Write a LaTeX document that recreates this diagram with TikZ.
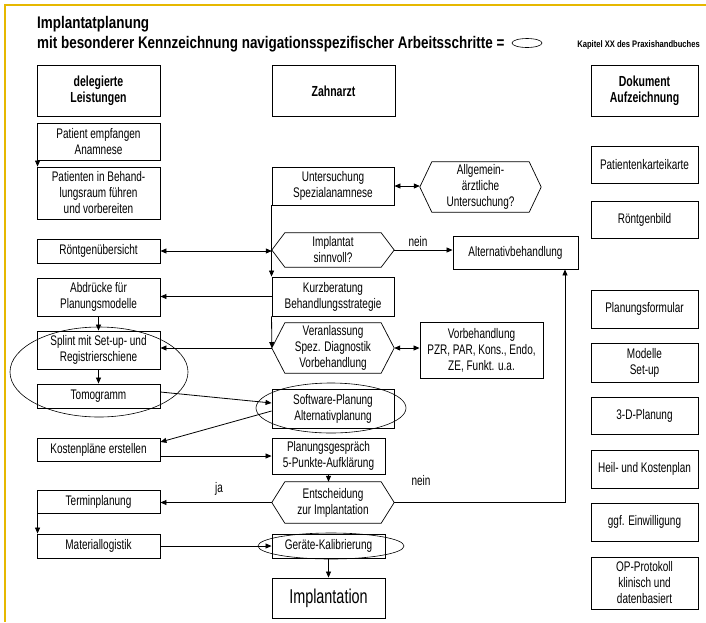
\documentclass[tikz,border=0pt]{standalone}
\usepackage{fontspec}
\setmainfont{Liberation Sans}[FakeStretch=0.72]
\newfontfamily\titlefont{Liberation Sans}[FakeStretch=0.8]
\usetikzlibrary{arrows.meta,shapes.geometric}
\definecolor{frameyellow}{HTML}{E6B800}
\newcommand{\bodyfont}{\fontsize{13.9}{16}\selectfont}
\newcommand{\headfont}{\fontsize{14.6}{16.5}\selectfont\bfseries}
\newcommand{\hexout}[2]{\draw[hexline] (#1.west) -- ([xshift=#2]#1.north west) -- ([xshift=-#2]#1.north east) -- (#1.east) -- ([xshift=-#2]#1.south east) -- ([xshift=#2]#1.south west) -- cycle;}
\tikzset{
  box/.style={draw, line width=0.9pt, inner sep=0pt, align=center, font=\bodyfont},
  hbox/.style={draw, line width=0.9pt, inner sep=0pt, align=center, font=\headfont},
  hexnode/.style={draw=none, inner sep=0pt, align=center, font=\bodyfont},
  hexline/.style={line width=0.7pt, line join=miter},
  conn/.style={line width=0.8pt},
  arr/.style={conn, -{Triangle[length=6pt,width=5pt]}},
  darr/.style={conn, {Triangle[length=6pt,width=5pt]}-{Triangle[length=6pt,width=5pt]}},
  ring/.style={draw, line width=0.6pt},
  lbl/.style={font=\bodyfont, inner sep=0pt},
  ttl/.style={anchor=base west, inner sep=0pt, font=\titlefont\fontsize{16.8}{19}\selectfont\bfseries}
}
\begin{document}
\begin{tikzpicture}[x=1pt,y=-1pt]
\useasboundingbox (0,0) rectangle (706,622);
\fill[white] (0,0) rectangle (706,622);
% frame lines
\draw[frameyellow, line width=2pt] (4,4.5) -- (706,4.5);
\draw[frameyellow, line width=2pt] (5,4) -- (5,622);

% title
\node[ttl] (t1) at (37,28) {Implantatplanung};
\node[ttl] (t2) at (37,48) {mit besonderer Kennzeichnung navigationsspezifischer Arbeitsschritte =};
\node[ring, ellipse, minimum width=30pt, minimum height=9pt, inner sep=0pt] (tell) at (527,43) {};
\node[anchor=base east, inner sep=0pt, font=\titlefont\fontsize{9.5}{11}\selectfont\bfseries] (kap) at (700,47) {Kapitel XX des Praxishandbuches};

% header boxes
\node[hbox, minimum width=123pt, minimum height=51pt] (hdl) at (98.5,91) {delegierte\\Leistungen};
\node[hbox, minimum width=123pt, minimum height=51pt] (hz) at (333.5,91) {Zahnarzt};
\node[hbox, minimum width=107pt, minimum height=51pt] (hd) at (644.5,91) {Dokument\\Aufzeichnung};

% left column
\node[box, minimum width=123pt, minimum height=37pt] (l1) at (98.5,141.5) {Patient empfangen\\Anamnese};
\node[box, minimum width=123pt, minimum height=52pt] (l2) at (98.5,193) {Patienten in Behand-\\lungsraum führen\\und vorbereiten};
\node[box, minimum width=123pt, minimum height=24pt] (l3) at (98.5,251) {Röntgenübersicht};
\node[box, minimum width=123pt, minimum height=38pt] (l4) at (98.5,297) {Abdrücke für\\Planungsmodelle};
\node[box, minimum width=123pt, minimum height=38pt] (l5) at (98.5,350) {Splint mit Set-up- und\\Registrierschiene};
\node[box, minimum width=123pt, minimum height=24pt] (l6) at (98.5,396) {Tomogramm};
\node[box, minimum width=123pt, minimum height=23pt] (l7) at (98.5,449.5) {Kostenpläne erstellen};
\node[box, minimum width=123pt, minimum height=23pt] (l8) at (98.5,501.5) {Terminplanung};
\node[box, minimum width=123pt, minimum height=24pt] (l9) at (98.5,546) {Materiallogistik};
\node[ring, ellipse, minimum width=178pt, minimum height=90pt, inner sep=0pt] (lell) at (99,372) {};

% middle column
\node[box, minimum width=122pt, minimum height=38pt] (m1) at (333,186) {Untersuchung\\Spezialanamnese};
\node[hexnode, minimum width=121pt, minimum height=50pt] (h1) at (480.5,187) {Allgemein-\\ärztliche\\Untersuchung?};
\hexout{h1}{12}
\node[hexnode, minimum width=122pt, minimum height=34pt] (h2) at (333,250) {Implantat\\sinnvoll?};
\hexout{h2}{13}
\node[box, minimum width=125pt, minimum height=33pt] (alt) at (515.5,252.5) {Alternativbehandlung};
\node[box, minimum width=122pt, minimum height=39pt] (m2) at (333,296.5) {Kurzberatung\\Behandlungsstrategie};
\node[hexnode, minimum width=122pt, minimum height=50pt] (h3) at (333,348) {Veranlassung\\Spez. Diagnostik\\Vorbehandlung};
\hexout{h3}{13}
\node[box, minimum width=123pt, minimum height=56pt] (vb) at (481.5,350) {Vorbehandlung\\PZR, PAR, Kons., Endo,\\ZE, Funkt. u.a.};
\node[box, minimum width=122pt, minimum height=39pt] (m3) at (333,408.5) {Software-Planung\\Alternativplanung};
\node[ring, ellipse, minimum width=150pt, minimum height=50pt, inner sep=0pt] (mell1) at (331,408) {};
\node[box, minimum width=113pt, minimum height=36pt] (m4) at (328.5,456) {Planungsgespräch\\5-Punkte-Aufklärung};
\node[hexnode, minimum width=122pt, minimum height=41pt] (h4) at (333,502.5) {Entscheidung\\zur Implantation};
\hexout{h4}{13}
\node[box, minimum width=113pt, minimum height=24pt] (m5) at (328.5,546) {Geräte-Kalibrierung};
\node[ring, ellipse, minimum width=146pt, minimum height=26pt, inner sep=0pt] (mell2) at (331,546) {};
\node[box, minimum width=113pt, minimum height=40pt, font=\fontsize{20}{23}\selectfont] (m6) at (328.5,598) {Implantation};

% right column
\node[box, minimum width=107pt, minimum height=37pt] (r1) at (644.5,164.5) {Patientenkarteikarte};
\node[box, minimum width=107pt, minimum height=37pt] (r2) at (644.5,219.5) {Röntgenbild};
\node[box, minimum width=107pt, minimum height=38pt] (r3) at (644.5,309) {Planungsformular};
\node[box, minimum width=107pt, minimum height=39pt] (r4) at (644.5,362.5) {Modelle\\Set-up};
\node[box, minimum width=107pt, minimum height=37pt] (r5) at (644.5,415.5) {3-D-Planung};
\node[box, minimum width=107pt, minimum height=38pt] (r6) at (644.5,469) {Heil- und Kostenplan};
\node[box, minimum width=107pt, minimum height=38pt] (r7) at (644.5,522) {ggf. Einwilligung};
\node[box, minimum width=107pt, minimum height=52pt] (r8) at (644.5,583) {OP-Protokoll\\klinisch und\\datenbasiert};

% connectors left
\draw[arr] ([xshift=1pt]l1.south west) -- ([xshift=1pt]l2.north west);
\draw[arr] (l4.south) -- (l5.north);
\draw[arr] (l5.south) -- (l6.north);
\draw[arr] ([xshift=1pt]l8.south west) -- ([xshift=1pt]l9.north west);

% middle spine
\draw[arr] (m1.south west) -- (m2.north west);
\draw[arr] (m2.south west) -- (h3.west);
\draw[darr] (l3.east) -- (l3.east -| h2.west);
\draw[arr] (m2.west) -- (m2.west -| l4.east);
\draw[arr] (h3.west) -- (h3.west -| l5.east);
\draw[arr] ([yshift=4pt]l6.east) -- ([yshift=5.5pt]m3.west);
\draw[arr] ([yshift=-2.5pt]m3.west) -- ([yshift=7.5pt]l7.east);
\draw[arr] (m4.west -| l7.east) -- (m4.west);
\draw[arr] (h4.west) -- (h4.west -| l8.east);
\draw[arr] (l9.east) -- (m5.west);
\draw[arr] (m4.south) -- (m4.south |- h4.north);
\draw[arr] (m5.south) -- (m6.north);

% right side connectors
\draw[darr] (m1.east) -- (m1.east -| h1.west);
\draw[arr] (h2.east) -- (h2.east -| alt.west);
\draw[darr] (h3.east) -- (h3.east -| vb.west);
\coordinate (nc) at (565,502.5);
\draw[arr] (h4.east) -- (nc) -- (nc |- alt.south);

% labels
\node[lbl] (ln1) at (418,242) {nein};
\node[lbl] (lja) at (219,489) {ja};
\node[lbl] (ln2) at (421,481) {nein};
\end{tikzpicture}
\end{document}
